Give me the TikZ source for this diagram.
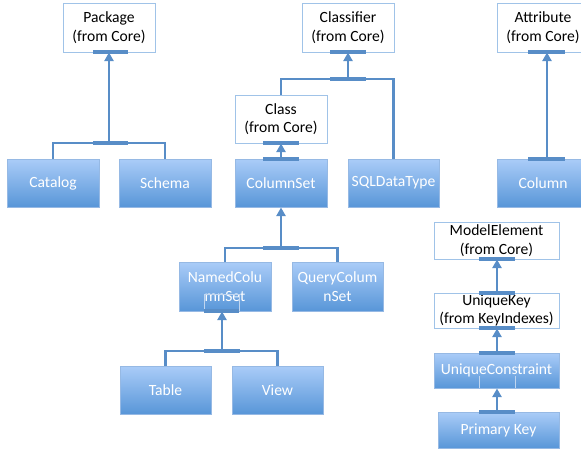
\documentclass[tikz,border=0pt]{standalone}
\usepackage{fontspec}
\setmainfont{Carlito}
\usetikzlibrary{arrows.meta}
\definecolor{linec}{RGB}{88,141,199}
\definecolor{topc}{RGB}{170,204,248}
\definecolor{botc}{RGB}{88,150,216}
\definecolor{bordc}{RGB}{150,185,228}
\definecolor{wbord}{RGB}{160,195,232}
\tikzset{
  base/.style={rectangle, inner sep=0pt, align=center, font=\fontsize{15.6}{18.5}\selectfont},
  wbox/.style={base, draw=wbord, line width=1pt, fill=white, text=black, minimum width=92pt, minimum height=49pt},
  bbox/.style={base, draw=bordc, line width=1pt, top color=topc, bottom color=botc, text=white, minimum width=92pt, minimum height=48pt},
  conn/.style={draw=linec, line width=2.2pt},
  arr/.style={conn, -{Triangle[width=9pt,length=8.5pt]}},
  bar/.style={draw=linec, line width=3.2pt},
  ghost/.style={draw=bordc!60!white, line width=0.7pt}
}
\begin{document}
\begin{tikzpicture}[x=1pt,y=-1pt]
\useasboundingbox (0,0) rectangle (581,450);
% top row
\node[wbox] (package) at (109,27.5) {Package\\(from Core)};
\node[wbox] (classifier) at (348,27.5) {Classifier\\(from Core)};
\node[wbox] (attribute) at (543,27.5) {Attribute\\(from Core)};
\node[wbox, minimum height=48pt] (class) at (281,119) {Class\\(from Core)};
% second row
\node[bbox] (catalog) at (53,183) {Catalog};
\node[bbox] (schema) at (165,183) {Schema};
\node[bbox] (columnset) at (281,183) {ColumnSet};
\node[bbox, minimum width=91pt] (sqldt) at (393.5,183) {SQLDataType};
\node[bbox] (column) at (543,183) {Column};
% third row
\node[bbox, minimum height=49pt] (named) at (225,286.5) {NamedColu\\mnSet};
\node[bbox, minimum width=91pt, minimum height=49pt] (query) at (337.5,286.5) {QueryColum\\nSet};
% fourth row
\node[bbox, minimum width=91pt] (table) at (165.5,390) {Table};
\node[bbox, minimum width=91pt] (view) at (277.5,390) {View};
% right column
\node[wbox, minimum width=125pt, minimum height=37pt] (modelel) at (496.5,240.5) {ModelElement\\(from Core)};
\node[wbox, minimum width=125pt, minimum height=35pt] (ukey) at (496.5,310.5) {UniqueKey\\(from KeyIndexes)};
\node[bbox, minimum width=125pt, minimum height=35pt] (ucons) at (496.5,370.5) {UniqueConstraint};
\node[bbox, minimum width=121pt, minimum height=36pt] (pkey) at (498.5,430) {Primary Key};

% ghost markers
\draw[ghost] (204,311) -- (204,294) -- (239,294) -- (239,311);
\draw[ghost] (479,388) -- (479,376);
\draw[ghost] (515,388) -- (515,376);

% Package generalization
\coordinate (j1) at (109,143);
\draw[conn] (catalog.north) |- (j1) -| (schema.north);
\draw[arr] (j1) -- (package.south);
\draw[bar] (93,143) -- (128,143);
\draw[bar] (93,52) -- (128,52);

% Classifier generalization
\coordinate (j2) at (348,79);
\draw[conn] (class.north) |- (j2) -| (sqldt.north);
\draw[arr] (j2) -- (classifier.south);
\draw[bar] (330,79) -- (366,79);
\draw[bar] (330,52) -- (366,52);

% Class <- ColumnSet
\draw[arr] (columnset.north) -- (class.south);
\draw[bar] (263,143) -- (299,143);
\draw[bar] (263,159) -- (299,159);

% ColumnSet <- Named/Query
\coordinate (j3) at (281,248);
\draw[conn] (named.north) |- (j3) -| (query.north);
\draw[arr] (j3) -- (columnset.south);
\draw[bar] (263,248) -- (299,248);

% Named <- Table/View
\coordinate (j4) at (222,351);
\draw[conn] (table.north) |- (j4) -| (view.north);
\draw[arr] (j4) -- (named.south -| j4);
\draw[bar] (204,351) -- (240,351);
\draw[bar] (204,311) -- (239,311);

% Attribute <- Column
\coordinate (ca) at (547,159);
\draw[arr] (ca) -- (attribute.south -| ca);
\draw[bar] (528,52) -- (565,52);
\draw[bar] (528,159) -- (565,159);

% right chain
\coordinate (rx) at (497,0);
\draw[arr] (ukey.north -| rx) -- (modelel.south -| rx);
\draw[arr] (ucons.north -| rx) -- (ukey.south -| rx);
\draw[arr] (pkey.north -| rx) -- (ucons.south -| rx);
\draw[bar] (479,259) -- (515,259);
\draw[bar] (479,293) -- (515,293);
\draw[bar] (479,328) -- (515,328);
\draw[bar] (479,353) -- (515,353);
\draw[bar] (479,412) -- (515,412);
\end{tikzpicture}
\end{document}
